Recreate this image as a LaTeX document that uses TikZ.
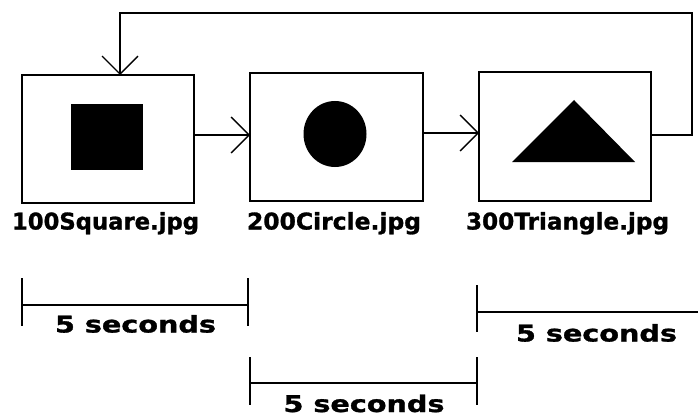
\documentclass[tikz,border=0pt]{standalone}
\usepackage{fontspec}
\usepackage{graphicx}
\setmainfont{DejaVu Sans}[BoldFeatures={FakeBold=1.2}]
\usetikzlibrary{arrows.meta,shapes.geometric}
\newcommand\fitw[2]{\resizebox{#1}{\height}{#2}}
\tikzset{
  frame/.style={draw=black, line width=1.5pt, minimum width=172pt, minimum height=128pt, inner sep=0pt, outer sep=0pt},
  conn/.style={draw=black, line width=1.3pt, -{Straight Barb[length=18pt,width=36pt,line width=1.3pt]}},
  bar/.style={draw=black, line width=1.3pt},
  lbl/.style={font=\fontsize{23}{27}\selectfont\bfseries, anchor=base, inner sep=0pt},
}
\begin{document}
\begin{tikzpicture}[x=1pt,y=-1pt]
\useasboundingbox[fill=white] (0,0) rectangle (698,417);
% boxes
\node[frame] (b1) at (108,139) {};
\node[frame, minimum width=173pt] (b2) at (336.5,137) {};
\node[frame, minimum height=129pt] (b3) at (565,136.5) {};
% pictures
\node[fill=black, minimum width=72pt, minimum height=66pt, inner sep=0pt] (sq) at (107,137) {};
\node[ellipse, fill=black, minimum width=63pt, minimum height=66pt, inner sep=0pt] (ci) at (335,134) {};
\coordinate (ta) at (574,100);
\coordinate (tb) at (512,162);
\coordinate (tc) at (635,162);
\fill[black] (ta) -- (tb) -- (tc) -- cycle;
% connectors
\draw[conn] ([yshift=4pt]b1.east) -- ([yshift=4pt]b1.east -| b2.west);
\draw[conn] ([yshift=4pt]b2.east) -- ([yshift=4pt]b2.east -| b3.west);
\coordinate (c1) at (692,13);
\coordinate (c2) at (120,13);
\draw[conn] ([yshift=1.5pt]b3.east) -- ([yshift=1.5pt]b3.east -| c1) -- (c1) -- (c2) -- (c2 |- b1.north);
% labels
\node[lbl] (l1) at (105.5,229.5) {\fitw{187pt}{100Square.jpg}};
\node[lbl] (l2) at (334,229.5) {\fitw{174pt}{200Circle.jpg}};
\node[lbl] (l3) at (567.5,229.5) {\fitw{203pt}{300Triangle.jpg}};
% time bars
\coordinate (p1) at (22,305);
\coordinate (p2) at (248,305);
\draw[bar] (22,278) -- (22,326);
\draw[bar] (248,278) -- (248,326);
\draw[bar] (p1) -- (p2);
\node[lbl] (t1) at (135.5,332.5) {\fitw{161pt}{5 seconds}};
\coordinate (q1) at (250,383);
\coordinate (q2) at (477,383);
\draw[bar] (250,357) -- (250,405);
\draw[bar] (477,357) -- (477,405);
\draw[bar] (q1) -- (q2);
\node[lbl] (t2) at (364,412) {\fitw{161pt}{5 seconds}};
\coordinate (r1) at (477,312);
\coordinate (r2) at (698,312);
\draw[bar] (477,285) -- (477,332);
\draw[bar] (r1) -- (r2);
\node[lbl] (t3) at (596.5,341.5) {\fitw{161pt}{5 seconds}};
\end{tikzpicture}
\end{document}
